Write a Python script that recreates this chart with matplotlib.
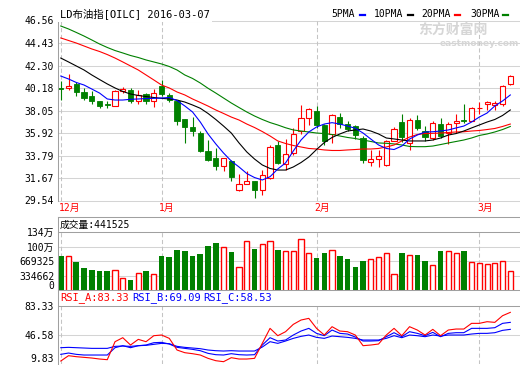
import matplotlib
matplotlib.use('Agg')
import matplotlib.pyplot as plt
from matplotlib.lines import Line2D
import matplotlib.transforms as mtransforms
import numpy as np

plt.rcParams['font.family'] = ['DejaVu Sans Mono', 'Noto Sans CJK SC']

# daily OHLC
opens = [40.18, 40.18, 40.59, 39.76, 39.39, 38.91, 38.62, 38.51, 39.90, 40.02,
         38.91, 39.58, 38.91, 40.40, 39.55, 38.93, 37.25, 36.45, 35.92, 34.25,
         33.56, 32.77, 33.30, 30.56, 31.13, 31.35, 30.56, 31.67, 34.75, 32.99,
         34.03, 36.08, 37.34, 37.98, 36.71, 35.83, 37.44, 36.81, 36.55, 35.45,
         33.18, 33.49, 32.93, 35.20, 37.00, 34.98, 37.18, 36.08, 35.45, 36.78,
         35.92, 36.87, 37.18, 37.02, 38.25, 38.62, 38.60, 38.67, 40.56]
highs = [40.80, 41.53, 40.75, 40.18, 39.86, 38.95, 38.91, 40.02, 40.24, 40.18,
         40.02, 39.71, 40.09, 40.97, 39.71, 39.07, 37.25, 37.40, 36.08, 35.29,
         34.51, 33.56, 33.40, 32.08, 32.29, 31.35, 32.45, 34.82, 35.13, 35.39,
         36.40, 38.60, 38.29, 38.44, 36.78, 37.72, 37.82, 37.02, 36.71, 35.60,
         34.35, 34.35, 35.29, 36.46, 37.72, 37.34, 37.65, 36.55, 37.09, 37.34,
         36.96, 37.72, 38.67, 38.36, 38.86, 38.92, 38.92, 40.43, 41.44]
lows = [39.07, 39.95, 39.39, 39.01, 38.69, 38.29, 38.29, 38.44, 39.71, 38.76,
        38.69, 38.69, 38.38, 39.39, 38.90, 36.71, 34.98, 35.60, 34.10, 33.24,
        32.45, 32.29, 31.41, 30.40, 31.13, 29.81, 30.09, 31.60, 32.99, 32.45,
        33.87, 35.83, 36.71, 36.40, 34.82, 34.98, 36.40, 36.08, 35.39, 33.08,
        32.77, 32.67, 32.77, 35.13, 35.10, 34.35, 36.24, 35.13, 35.29, 35.45,
        34.89, 35.92, 36.90, 37.02, 37.72, 38.13, 38.13, 38.44, 40.43]
closes = [40.10, 40.40, 39.76, 39.23, 38.91, 38.44, 38.60, 39.86, 40.09, 38.91,
          39.55, 38.91, 39.71, 39.61, 39.05, 37.04, 36.45, 36.08, 34.19, 33.40,
          32.77, 33.56, 31.73, 31.10, 31.35, 30.56, 31.98, 34.56, 33.08, 33.94,
          35.83, 37.34, 38.19, 36.71, 35.13, 37.59, 36.78, 36.33, 35.77, 33.40,
          33.46, 33.79, 35.13, 36.33, 35.50, 37.18, 36.40, 35.51, 36.87, 35.60,
          36.78, 37.05, 37.05, 38.29, 38.29, 38.86, 38.75, 40.33, 41.28]

ma5 = [41.31, 41.03, 40.70, 40.46, 40.08, 39.70, 39.14, 39.04, 39.04, 39.11,
       39.14, 39.18, 39.20, 39.23, 39.28, 38.99, 38.48, 37.91, 36.96, 35.83,
       34.89, 34.03, 33.27, 32.71, 32.09, 31.71, 31.48, 31.79, 32.52, 33.09,
       34.22, 35.26, 36.02, 36.49, 36.77, 36.90, 36.77, 36.58, 36.37, 35.92,
       35.35, 34.79, 34.46, 34.36, 34.69, 35.35, 35.73, 36.02, 36.04, 36.11,
       36.21, 36.40, 36.58, 36.96, 37.43, 37.81, 38.48, 38.95, 39.52]
ma10 = [43.01, 42.64, 42.26, 41.88, 41.41, 40.98, 40.56, 40.18, 39.85, 39.61,
        39.47, 39.37, 39.28, 39.20, 39.14, 39.04, 38.85, 38.57, 38.26, 37.77,
        37.20, 36.58, 35.92, 34.98, 34.13, 33.46, 32.90, 32.57, 32.42, 32.42,
        32.71, 33.13, 33.65, 34.36, 35.02, 35.50, 35.83, 36.11, 36.21, 36.30,
        36.11, 35.83, 35.45, 35.36, 35.26, 35.17, 35.17, 35.17, 35.26, 35.45,
        35.73, 35.87, 36.11, 36.40, 36.68, 36.96, 37.20, 37.58, 38.10]
ma20 = [44.91, 44.67, 44.43, 44.15, 43.87, 43.63, 43.34, 43.01, 42.64, 42.26,
        41.88, 41.41, 40.94, 40.46, 40.18, 39.80, 39.52, 39.14, 38.81, 38.47,
        38.10, 37.77, 37.43, 37.15, 36.77, 36.44, 36.06, 35.64, 35.17, 34.93,
        34.74, 34.60, 34.46, 34.41, 34.32, 34.27, 34.27, 34.32, 34.36, 34.41,
        34.41, 34.46, 34.60, 34.79, 35.17, 35.54, 35.78, 35.87, 35.89, 35.92,
        35.97, 36.02, 36.04, 36.11, 36.16, 36.25, 36.35, 36.54, 36.77]
ma30 = [46.04, 45.76, 45.43, 45.09, 44.72, 44.34, 44.01, 43.72, 43.49, 43.25,
        43.06, 42.83, 42.64, 42.45, 42.21, 41.88, 41.41, 41.08, 40.65, 40.15,
        39.70, 39.23, 38.76, 38.33, 37.91, 37.53, 37.20, 36.91, 36.68, 36.42,
        36.21, 36.11, 36.02, 35.92, 35.87, 35.78, 35.64, 35.50, 35.40, 35.26,
        35.12, 34.98, 34.95, 34.89, 34.79, 34.65, 34.63, 34.63, 34.69, 34.83,
        34.98, 35.12, 35.26, 35.45, 35.69, 35.83, 36.02, 36.25, 36.54]

volume = [785700, 785700, 662000, 509000, 480000, 444000, 444000, 480000, 284000, 247000,
          415000, 458000, 393000, 786000, 764000, 917000, 902000, 786000, 837000, 1011000,
          1091000, 982000, 873000, 546000, 1128000, 946000, 1062000, 1128000, 917000, 909000,
          909000, 1171000, 851000, 742000, 851000, 931000, 786000, 720000, 546000, 677000,
          713000, 778000, 851000, 393000, 851000, 808000, 808000, 677000, 589000, 895000,
          895000, 851000, 895000, 655000, 633000, 611000, 633000, 677000, 441525]

rsi_a = [13.94, 20.63, 19.38, 18.54, 17.70, 16.45, 15.61, 38.19, 43.20, 34.01,
         41.11, 38.19, 45.71, 46.55, 42.37, 27.74, 24.39, 23.14, 21.47, 17.29,
         14.35, 13.11, 18.12, 16.45, 16.45, 17.29, 36.10, 54.91, 45.71, 50.72,
         59.92, 65.36, 67.45, 54.91, 46.55, 57.00, 51.56, 50.72, 46.55, 33.17,
         34.01, 35.26, 46.55, 54.91, 45.71, 57.00, 52.82, 46.55, 53.65, 45.71,
         52.82, 54.07, 54.07, 61.18, 61.18, 63.27, 62.43, 70.79, 74.97]
rsi_b = [22.30, 23.97, 22.30, 21.47, 21.47, 21.47, 21.47, 30.66, 33.17, 30.66,
         33.17, 34.01, 36.93, 37.35, 35.26, 31.08, 29.82, 28.57, 26.90, 23.56,
         21.88, 21.47, 23.14, 21.88, 21.47, 21.88, 34.01, 43.20, 39.02, 40.28,
         46.55, 51.56, 54.91, 48.64, 45.71, 52.82, 48.64, 47.80, 44.04, 39.02,
         39.02, 39.44, 44.46, 49.47, 44.46, 50.72, 48.64, 45.71, 49.89, 44.46,
         48.64, 49.47, 49.47, 54.91, 54.91, 54.91, 55.74, 61.18, 62.43]
rsi_c = [30.66, 31.08, 30.66, 30.24, 29.82, 29.82, 29.82, 32.33, 32.75, 32.33,
         33.17, 33.59, 34.84, 36.10, 35.68, 32.33, 31.08, 30.24, 29.41, 27.74,
         26.90, 26.48, 26.90, 26.48, 26.48, 26.48, 31.50, 38.19, 36.10, 39.02,
         42.37, 44.87, 46.55, 43.62, 42.37, 45.29, 44.46, 43.62, 42.37, 40.28,
         40.28, 40.28, 42.37, 45.71, 43.20, 46.55, 45.71, 44.46, 46.55, 45.29,
         46.55, 46.55, 46.55, 47.80, 48.64, 48.64, 49.47, 52.40, 53.65]

price_ticks = [46.56, 44.43, 42.30, 40.18, 38.05, 35.92, 33.79, 31.67, 29.54]
vol_ticks = [0, 334662, 669325, 1003987, 1338650]
vol_labels = ['0', '334662', '669325', '100万', '134万']
rsi_ticks = [9.83, 46.58, 83.33]
month_pos = [0, 13, 33, 54]
month_labels = ['12月', '1月', '2月', '3月']

RED = '#ff0000'
GREEN = '#008000'
BLUE = '#0000ff'
FRAME = '#a0a0a0'
GRID = '#d4d4d4'
DASH = '#c4c4c4'
W, H = 520, 365
XL, XR = 58.3, 520

fig = plt.figure(figsize=(W / 100, H / 100), dpi=100)


def box(top, bottom):
    return [XL / W, 1 - bottom / H, (XR - XL) / W, (bottom - top) / H]


def fig_line(xs, ys, color=FRAME):
    fig.add_artist(Line2D([x / W for x in xs], [1 - y / H for y in ys],
                          transform=fig.transFigure, color=color, lw=0.75))


ax_p = fig.add_axes(box(20.5, 200.5))
ax_v = fig.add_axes(box(231.7, 291))
ax_r = fig.add_axes(box(305.7, 364.3))

n = len(opens)
idx = np.arange(n)
o, h, l, c = map(np.array, (opens, highs, lows, closes))
up = c >= o

for ax in (ax_p, ax_v, ax_r):
    ax.set_xlim(-0.32, 59.25)
    ax.set_xticks([])
    for s in ax.spines.values():
        s.set_visible(False)
    ax.tick_params(axis='y', length=0, pad=3, labelsize=7)
    for m in month_pos:
        ax.axvline(m, color=DASH, lw=0.75, dashes=(4, 2.5), zorder=1)

# price panel
for t in price_ticks:
    ax_p.axhline(t, color=GRID, lw=0.75, zorder=0, clip_on=False)
ax_p.set_ylim(29.54, 46.56)
ax_p.set_yticks(price_ticks)
ax_p.set_yticklabels(['%.2f' % t for t in price_ticks])

ax_p.vlines(idx, l, h, colors=[RED if u else GREEN for u in up], lw=0.8, zorder=2)
body_lo = np.minimum(o, c)
body_h = np.maximum(np.abs(c - o), 0.03)
ax_p.bar(idx[up], body_h[up], bottom=body_lo[up], width=0.66, facecolor='white',
         edgecolor=RED, linewidth=0.8, zorder=3)
ax_p.bar(idx[~up], body_h[~up], bottom=body_lo[~up], width=0.66, facecolor=GREEN,
         edgecolor=GREEN, linewidth=0.6, zorder=3)

ax_p.plot(idx, ma30, color=GREEN, lw=0.8, zorder=4)
ax_p.plot(idx, ma20, color=RED, lw=0.8, zorder=4)
ax_p.plot(idx, ma10, color='black', lw=0.8, zorder=4)
ax_p.plot(idx, ma5, color=BLUE, lw=0.8, zorder=4)

trans = mtransforms.blended_transform_factory(ax_p.transData, ax_p.transAxes)
for m, lab in zip(month_pos, month_labels):
    ax_p.text(m - 0.3, -7.5 / 180, lab, transform=trans, ha='left', va='center',
              color=RED, fontsize=7, clip_on=False)

# volume panel
ax_v.set_ylim(0, 1338650)
for t in vol_ticks[1:-1]:
    ax_v.axhline(t, color=GRID, lw=0.75, zorder=0)
ax_v.set_yticks(vol_ticks)
ax_v.set_yticklabels(vol_labels)
ax_v.get_yticklabels()[0].set_va('bottom')
vol = np.array(volume)
ax_v.bar(idx[up], vol[up], width=0.66, facecolor='white', edgecolor=RED,
         linewidth=1.0, zorder=3)
ax_v.bar(idx[~up], vol[~up], width=0.72, color=GREEN, zorder=3)

# rsi panel
ax_r.set_ylim(9.83, 83.33)
ax_r.axhline(46.58, color=GRID, lw=0.75, zorder=0)
ax_r.set_yticks(rsi_ticks)
ax_r.set_yticklabels(['%.2f' % t for t in rsi_ticks])
ax_r.get_yticklabels()[0].set_va('bottom')
ax_r.plot(idx, rsi_c, color=BLUE, lw=0.8, zorder=3)
ax_r.plot(idx, rsi_b, color=BLUE, lw=0.8, zorder=3)
ax_r.plot(idx, rsi_a, color=RED, lw=0.8, zorder=4)

# frame lines
fig_line([XL, XL], [21, 200.5])
fig_line([XL, XL], [216.7, 365])
for y in (216.7, 231.7, 289.5, 305.7):
    fig_line([XL, XR], [y, y])

# title, legend, headers
fig.text(60 / W, 1 - 14 / H, 'LD布油指[OILC] 2016-03-07', fontsize=7.5,
         va='center', ha='left',
         bbox=dict(facecolor='white', edgecolor='none', pad=1.5))
legend = [('5PMA', 331.7, 359.5, BLUE), ('10PMA', 374.3, 408, 'black'),
          ('20PMA', 421.7, 455.3, RED), ('30PMA', 470, 503, GREEN)]
for name, tx, mx, col in legend:
    fig.text(tx / W, 1 - 14 / H, name, fontsize=7, va='center', ha='left')
    fig_line([mx, mx + 5], [14.5, 14.5], color=col)
    fig.artists[-1].set_linewidth(1.6)

fig.text(418 / W, 1 - 30 / H, '东方财富网', fontsize=10, fontweight='bold',
         color='#d6d6d6', va='center', ha='left', family='Noto Sans CJK SC')
fig.text(440 / W, 1 - 44 / H, 'eastmoney.com', fontsize=6.5, fontweight='bold',
         color='#d6d6d6', va='center', ha='left', family='DejaVu Sans')

fig.text(60 / W, 1 - 224.5 / H, '成交量:441525', fontsize=7, va='center', ha='left')
fig.text(60 / W, 1 - 297.5 / H, 'RSI_A:83.33', fontsize=7.5, color=RED, va='center')
fig.text(132.7 / W, 1 - 297.5 / H, 'RSI_B:69.09', fontsize=7.5, color=BLUE, va='center')
fig.text(203.3 / W, 1 - 297.5 / H, 'RSI_C:58.53', fontsize=7.5, color=BLUE, va='center')

fig.savefig('out.png', dpi=100)
